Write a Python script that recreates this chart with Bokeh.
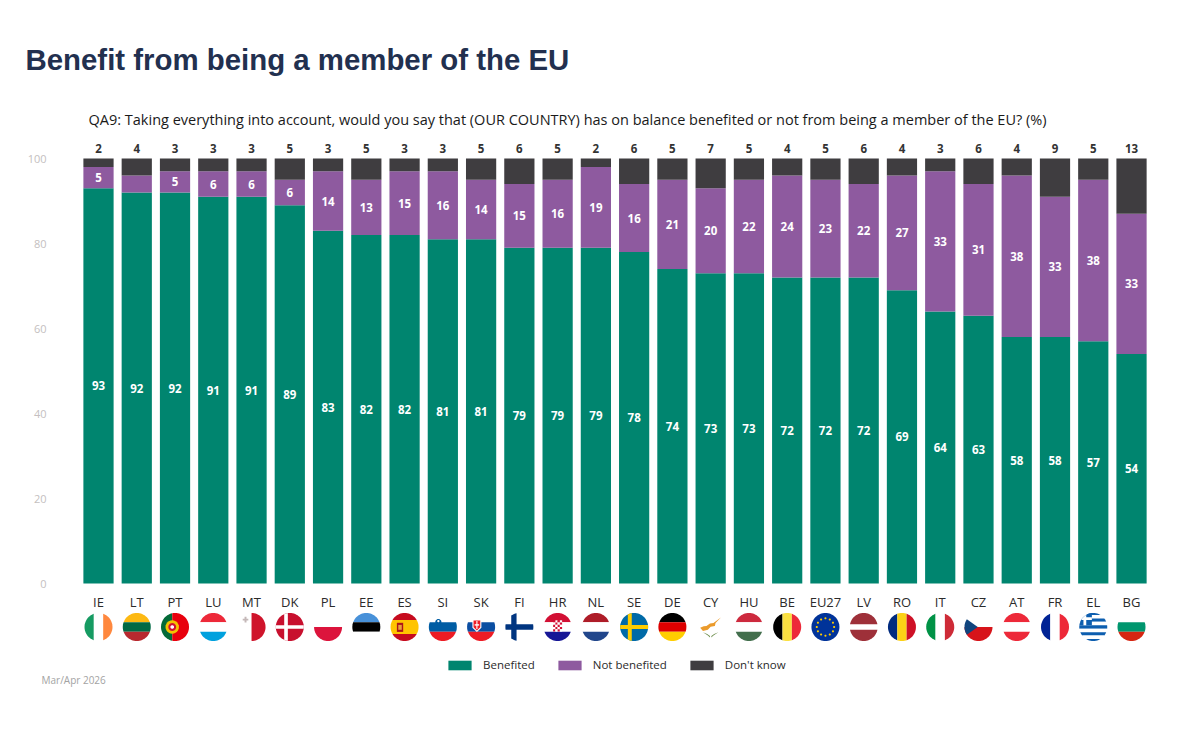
import numpy as np
from bokeh.plotting import figure
from bokeh.models import (ColumnDataSource, Range1d, FixedTicker, Label, Legend, LegendItem)
from bokeh.core.properties import value
from bokeh.embed import file_html
from bokeh.resources import INLINE

countries = ["IE","LT","PT","LU","MT","DK","PL","EE","ES","SI","SK","FI","HR","NL","SE","DE","CY","HU","BE","EU27","LV","RO","IT","CZ","AT","FR","EL","BG"]
benefited = [93,92,92,91,91,89,83,82,82,81,81,79,79,79,78,74,73,73,72,72,72,69,64,63,58,58,57,54]
not_benefited = [5,4,5,6,6,6,14,13,15,16,14,15,16,19,16,21,20,22,24,23,22,27,33,31,38,33,38,33]
dont_know = [2,4,3,3,3,5,3,5,3,3,5,6,5,2,6,5,7,5,4,5,6,4,3,6,4,9,5,13]
y_ticks = [0,20,40,60,80,100]

TITLE = "Benefit from being a member of the EU"
SUBTITLE = "QA9: Taking everything into account, would you say that (OUR COUNTRY) has on balance benefited or not from being a member of the EU? (%)"
NOTE = "Mar/Apr 2026"

GREEN, PURPLE, DARK = "#00856f", "#8e5a9f", "#3f3d40"
FONT = "Open Sans"

# pixel geometry of the page picture
W, H = 1184, 719
X0, DX = 98.0, 38.26
Y0, DY = 583.0, 4.25
def dx(px): return (px - X0) / DX
def dy(py): return (Y0 - py) / DY

# ---- flags: shapes in a unit circle, clipped to it
def H_(y0, y1, c): return ([(-1.1,y0),(1.1,y0),(1.1,y1),(-1.1,y1)], c)
def V_(x0, x1, c): return ([(x0,-1.1),(x1,-1.1),(x1,1.1),(x0,1.1)], c)
def R_(x0, x1, y0, y1, c): return ([(x0,y0),(x1,y0),(x1,y1),(x0,y1)], c)
def C_(x, y, r, c):
    a = np.linspace(0, 2*np.pi, 24, endpoint=False)
    return (list(zip(x + r*np.cos(a), y + r*np.sin(a))), c)
def h3(a, b, c, t=1/3): return [H_(t,1.1,a), H_(-t,t,b), H_(-1.1,-t,c)]
def v3(a, b, c, t=1/3): return [V_(-1.1,-t,a), V_(-t,t,b), V_(t,1.1,c)]

W_ = "#ffffff"
greek = [H_(1.1-(i+1)*2.2/9, 1.1-i*2.2/9, "#0d5eaf" if i % 2 == 0 else W_) for i in range(9)]
greek += [R_(-1.1,-0.1,0.12,1.1,"#0d5eaf"), R_(-0.7,-0.5,0.12,1.1,W_), R_(-1.1,-0.1,0.5,0.7,W_)]
stars = [C_(0.62*np.cos(t), 0.62*np.sin(t), 0.075, "#ffcc00") for t in np.linspace(0, 2*np.pi, 12, endpoint=False)]
croat = [R_(-0.32+0.16*i, -0.16+0.16*i, 0.32-0.16*j, 0.48-0.16*j, "#d21034" if (i+j) % 2 == 0 else W_) for i in range(4) for j in range(5)]
flags = {
 "IE": v3("#169b62", W_, "#ff883e"),
 "LT": h3("#fdb913", "#006a44", "#b8292f"),
 "PT": [V_(-1.1,-0.2,"#046a38"), V_(-0.2,1.1,"#e8000d"), C_(-0.2,0,0.48,"#f4c300"), C_(-0.2,0,0.28,"#d21034"), C_(-0.2,0,0.13,W_)],
 "LU": h3("#ed2939", W_, "#00a1de"),
 "MT": [V_(0,1.1,"#cf142b"), R_(-0.5,-0.36,0.33,0.73,"#c4b8b8"), R_(-0.63,-0.23,0.47,0.59,"#c4b8b8")],
 "DK": [V_(-1.1,1.1,"#c8102e"), V_(-0.4,-0.14,W_), H_(-0.13,0.13,W_)],
 "PL": [H_(-1.1,0,"#dc143c")],
 "EE": h3("#4891d9", "#000000", W_),
 "ES": [H_(0.5,1.1,"#c60b1e"), H_(-0.5,0.5,"#ffc400"), H_(-1.1,-0.5,"#c60b1e"), R_(-0.55,-0.1,-0.35,0.3,"#ad1519"), R_(-0.45,-0.2,-0.2,0.15,"#e8a33a")],
 "SI": h3(W_, "#005da4", "#ed1c24") + [C_(-0.32,0.35,0.22,"#005da4"), C_(-0.32,0.42,0.08,W_)],
 "SK": h3(W_, "#0b4ea2", "#ee1c25") + [([(-0.62,0.55),(0.02,0.55),(0.02,-0.05),(-0.3,-0.35),(-0.62,-0.05)],W_), ([(-0.54,0.47),(-0.06,0.47),(-0.06,-0.02),(-0.3,-0.25),(-0.54,-0.02)],"#ee1c25"), R_(-0.34,-0.26,-0.15,0.42,W_), R_(-0.46,-0.14,0.1,0.2,W_)],
 "FI": [V_(-0.58,-0.2,"#003580"), H_(-0.19,0.19,"#003580")],
 "HR": h3("#d21034", W_, "#171796") + croat,
 "NL": h3("#ae1c28", W_, "#21468b"),
 "SE": [V_(-1.1,1.1,"#006aa7"), V_(-0.45,-0.17,"#fecc00"), H_(-0.14,0.14,"#fecc00")],
 "DE": h3("#000000", "#dd0000", "#ffce00"),
 "CY": [([(-0.75,-0.05),(-0.5,0.05),(-0.3,0.08),(-0.05,0.25),(0.2,0.28),(0.75,0.7),(0.35,0.28),(0.3,0.08),(0,0.02),(-0.2,-0.2),(-0.55,-0.28)],"#eb9b2c"), ([(-0.55,-0.38),(-0.2,-0.6),(-0.05,-0.75),(-0.05,-0.65),(-0.25,-0.5)],"#6f8f4e"), ([(0.55,-0.38),(0.2,-0.6),(0.05,-0.75),(0.05,-0.65),(0.25,-0.5)],"#6f8f4e")],
 "HU": h3("#cd2a3e", W_, "#436f4d"),
 "BE": v3("#000000", "#fae042", "#ed2939"),
 "EU27": [V_(-1.1,1.1,"#003399")] + stars,
 "LV": [H_(0.2,1.1,"#9e3039"), H_(-1.1,-0.2,"#9e3039")],
 "RO": v3("#002b7f", "#fcd116", "#ce1126"),
 "IT": v3("#009246", W_, "#ce2b37"),
 "CZ": [H_(-1.1,0,"#d7141a"), ([(-1.1,0.75),(-0.05,0),(-1.1,-0.75)],"#11457e")],
 "AT": h3("#ed2939", W_, "#ed2939"),
 "FR": v3("#002395", W_, "#ed2939"),
 "EL": greek,
 "BG": h3(W_, "#00966e", "#d62612"),
}
theta = np.linspace(0, 2*np.pi, 64, endpoint=False)
circle = list(zip(np.cos(theta), np.sin(theta)))

def clip(poly):
    out = list(poly)
    n = len(circle)
    for i in range(n):
        a, b = circle[i], circle[(i+1) % n]
        side = lambda p: (b[0]-a[0])*(p[1]-a[1]) - (b[1]-a[1])*(p[0]-a[0])
        inp, out = out, []
        for j in range(len(inp)):
            p, q = inp[j], inp[(j+1) % len(inp)]
            sp, sq = side(p), side(q)
            if sp >= 0: out.append(p)
            if sp*sq < 0:
                t = sp/(sp-sq)
                out.append((p[0]+t*(q[0]-p[0]), p[1]+t*(q[1]-p[1])))
        if not out: return []
    return out

FLAG_R, FLAG_Y = 14.0, 626.5
fx, fy, fc = [], [], []
for i, code in enumerate(countries):
    for poly, col in flags[code]:
        c = clip(poly)
        if c:
            fx.append([i + p[0]*FLAG_R/DX for p in c])
            fy.append([dy(FLAG_Y) + p[1]*FLAG_R/DY for p in c])
            fc.append(col)

# ---- figure: the frame spans the page, ranges fixed so the axes land in place
p = figure(width=W, height=H, output_backend="svg", toolbar_location=None,
           x_range=Range1d(dx(0), dx(W)), y_range=Range1d(dy(H), dy(0)),
           min_border_left=0, min_border_right=0, min_border_top=0, min_border_bottom=0,
           outline_line_color=None, background_fill_color="white", border_fill_color="white")
p.grid.visible = False

source = ColumnDataSource(dict(x=list(range(len(countries))), code=countries,
    Benefited=benefited, Not=not_benefited, Dk=dont_know))
rs = p.vbar_stack(["Benefited","Not","Dk"], x="x", width=0.79, source=source,
                  color=[GREEN, PURPLE, DARK], line_color=None)

# y axis
ya = p.yaxis[0]
ya.fixed_location = dx(58)
ya.ticker = FixedTicker(ticks=y_ticks)
ya.axis_line_color = None
ya.major_tick_line_color = None
ya.minor_tick_line_color = None
ya.major_label_standoff = 6
ya.major_label_text_color = "#c4c0c0"
ya.major_label_text_font = FONT
ya.major_label_text_font_size = "11px"

# x axis at y=0
xa = p.xaxis[0]
xa.fixed_location = 0
xa.ticker = FixedTicker(ticks=list(range(len(countries))))
xa.major_label_overrides = {i: c for i, c in enumerate(countries)}
xa.axis_line_color = None
xa.major_tick_line_color = None
xa.minor_tick_line_color = None
xa.major_label_standoff = 3
xa.major_label_text_color = "#2b2b2b"
xa.major_label_text_font = FONT
xa.major_label_text_font_size = "13px"

# value labels
xs = list(range(len(countries)))
lab_kw = dict(text_font=value(FONT), text_font_style="bold", text_font_size="11.5px",
              text_align="center", text_baseline="middle")
p.text(xs, [b/2 for b in benefited], text=[str(v) for v in benefited], text_color="white", **lab_kw)
shown = [i for i, v in enumerate(not_benefited) if v >= 5]
p.text(shown, [benefited[i] + not_benefited[i]/2 for i in shown], text=[str(not_benefited[i]) for i in shown],
       text_color="white", **lab_kw)
p.text(xs, [100 + 10/DY]*len(xs), text=[str(v) for v in dont_know], text_color="#333333", **lab_kw)

# flags
p.patches(fx, fy, fill_color=fc, line_color=None)

# texts
p.add_layout(Label(x=dx(25), y=dy(58.5), text=TITLE, text_font="Liberation Sans", text_font_style="bold",
                   text_font_size="29.4px", text_color="#22304f", text_baseline="middle"))
p.add_layout(Label(x=dx(88), y=dy(119), text=SUBTITLE, text_font=FONT,
                   text_font_size="14.5px", text_color="#1a1a1a", text_baseline="middle"))
p.add_layout(Label(x=dx(41), y=dy(679), text=NOTE, text_font=FONT,
                   text_font_size="10px", text_color="#a3a3a3", text_baseline="middle"))

# legend
items = [LegendItem(label=n, renderers=[r]) for n, r in zip(["Benefited","Not benefited","Don't know"], rs)]
leg = Legend(items=items, orientation="horizontal", location=(445, H-672),
             glyph_width=29, glyph_height=12, label_standoff=9, spacing=20, padding=0, margin=0,
             border_line_color=None, background_fill_alpha=0,
             label_text_font=FONT, label_text_font_size="11.5px", label_text_color="#2b2b2b",
             label_height=12)
p.add_layout(leg, "center")

open("out.html", "w").write(file_html(p, INLINE))
